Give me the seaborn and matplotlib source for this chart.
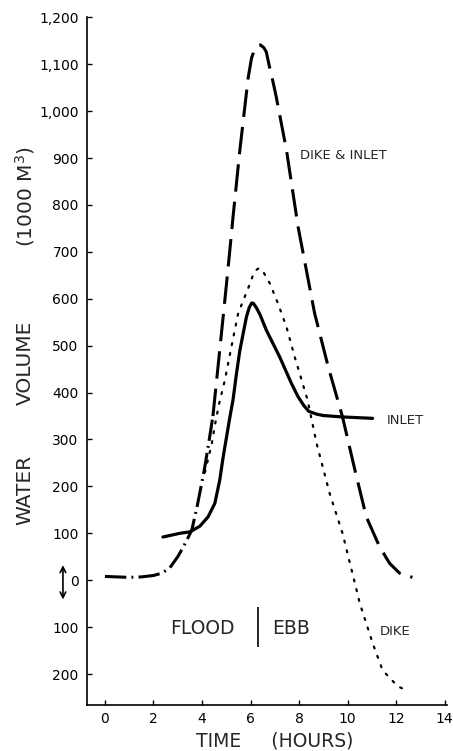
import numpy as np
import pandas as pd
import matplotlib
matplotlib.use("Agg")
import matplotlib.pyplot as plt
import seaborn as sns
import matplotlib.ticker as ticker

# Volumen de agua (1000 m3) vs tiempo (horas)
# tramo comun (dike & inlet = dike) antes de separarse
early_t = [0, 0.5, 1.0, 1.5, 2.0, 2.35, 2.67, 3.0, 3.2, 3.37, 3.58, 3.79, 4.0, 4.12, 4.3, 4.45]
early_v = [8, 7, 6, 7, 10, 15, 26, 50, 68, 85, 107, 155, 210, 243, 300, 350]

both_t = [4.45, 4.66, 4.87, 5.08, 5.28, 5.56, 5.8, 5.9, 6.04, 6.17, 6.3, 6.41, 6.55, 6.65,
          6.79, 6.91, 7.06, 7.48, 7.96, 8.64, 9.2, 9.79, 10.3, 10.77, 11.32, 11.73, 12.14, 12.67]
both_v = [350, 455, 561, 668, 775, 917, 1025, 1070, 1113, 1132, 1140, 1141, 1135, 1126,
          1092, 1066, 1030, 917, 753, 569, 455, 348, 235, 135, 71, 36, 15, 6]

dike_t = [4.12, 4.4, 4.53, 4.7, 4.94, 5.21, 5.49, 5.9, 6.1, 6.2, 6.34, 6.45, 6.55, 6.79,
          7.13, 7.48, 7.82, 8.35, 8.72, 9.26, 9.79, 10.37, 10.5, 11.03, 11.44, 12.06, 12.51]
dike_v = [230, 290, 330, 375, 426, 497, 569, 622, 650, 660, 665, 662, 655, 633,
          590, 540, 476, 384, 292, 185, 100, -21, -49, -134, -192, -226, -237]

inlet_t = [2.39, 3.09, 3.5, 3.91, 4.25, 4.53, 4.73, 4.87, 5.01, 5.14, 5.28, 5.42, 5.56, 5.83,
           5.95, 6.05, 6.12, 6.25, 6.4, 6.65, 7.2, 7.68, 7.96, 8.2, 8.4, 8.72, 9.0, 9.79, 11.03]
inlet_v = [92, 100, 103, 115, 135, 164, 213, 262, 305, 345, 385, 440, 490, 561,
           582, 591, 590, 580, 565, 533, 476, 420, 391, 372, 360, 354, 351, 348, 345]

y_ticks = [-200, -100, 0, 100, 200, 300, 400, 500, 600, 700, 800, 900, 1000, 1100, 1200]
x_ticks = [0, 2, 4, 6, 8, 10, 12, 14]
flood_ebb_split = 6.3

sns.set_style("ticks")
plt.rcParams['font.family'] = ['DejaVu Sans']

fig = plt.figure(figsize=(4.53, 7.51), dpi=100)
ax = fig.add_axes([0.192, 0.0613, 0.795, 0.9157])

df_early = pd.DataFrame({'t': early_t, 'v': early_v})
df_both = pd.DataFrame({'t': both_t, 'v': both_v})
df_dike = pd.DataFrame({'t': dike_t, 'v': dike_v})
df_inlet = pd.DataFrame({'t': inlet_t, 'v': inlet_v})

sns.lineplot(data=df_early, x='t', y='v', ax=ax, color='black', lw=2.2, estimator=None)
ax.lines[-1].set_dashes((7, 1.7, 0.6, 1.7))
sns.lineplot(data=df_both, x='t', y='v', ax=ax, color='black', lw=2.2, estimator=None)
ax.lines[-1].set_dashes((9, 3.3))
sns.lineplot(data=df_dike, x='t', y='v', ax=ax, color='black', lw=1.6, estimator=None)
ax.lines[-1].set_dashes((0.9, 3.6))
ax.lines[-1].set_dash_capstyle('round')
sns.lineplot(data=df_inlet, x='t', y='v', ax=ax, color='black', lw=2.3, estimator=None)
for ln in ax.lines:
    ln.set_solid_joinstyle('round')
    ln.set_dash_joinstyle('round')

ax.set_xlim(-0.74, 14.1)
ax.set_ylim(-266, 1200)
ax.set_xticks(x_ticks)
ax.set_yticks(y_ticks)
ax.yaxis.set_major_formatter(ticker.FuncFormatter(lambda v, p: f"{abs(v):,.0f}"))
ax.tick_params(axis='both', direction='in', length=3.5, width=1, labelsize=10, colors='black')
ax.tick_params(axis='y', pad=6)
ax.tick_params(axis='x', pad=5)
for s in ['top', 'right']:
    ax.spines[s].set_visible(False)
for s in ['left', 'bottom']:
    ax.spines[s].set_linewidth(1.2)
    ax.spines[s].set_color('black')
ax.set_xlabel('')
ax.set_ylabel('')

# etiquetas de las curvas
ax.text(8.02, 906, 'DIKE & INLET', fontsize=9.5, ha='left', va='center')
ax.text(11.6, 341, 'INLET', fontsize=9.5, ha='left', va='center')
ax.text(11.32, -109, 'DIKE', fontsize=9.5, ha='left', va='center')
ax.text(4.03, -102, 'FLOOD', fontsize=13.5, ha='center', va='center')
ax.text(6.87, -102, 'EBB', fontsize=13.5, ha='left', va='center')
ax.vlines(flood_ebb_split, -143, -58, color='black', lw=1.2)

ax.annotate('', xy=(-1.73, -47), xytext=(-1.73, 38), xycoords='data',
            arrowprops=dict(arrowstyle='<->', color='black', lw=1.2),
            annotation_clip=False)

fig.text(275 / 453, 1 - 741 / 751, 'TIME     (HOURS)', fontsize=13.5, ha='center', va='center')
fig.text(25 / 453, 1 - 490 / 751, 'WATER', fontsize=14.5, rotation=90, ha='center', va='center')
fig.text(25 / 453, 1 - 363 / 751, 'VOLUME', fontsize=14.5, rotation=90, ha='center', va='center')
fig.text(25 / 453, 1 - 197 / 751, '(1000 M$^3$)', fontsize=14.5, rotation=90, ha='center', va='center')

fig.savefig('out.png', dpi=100)
